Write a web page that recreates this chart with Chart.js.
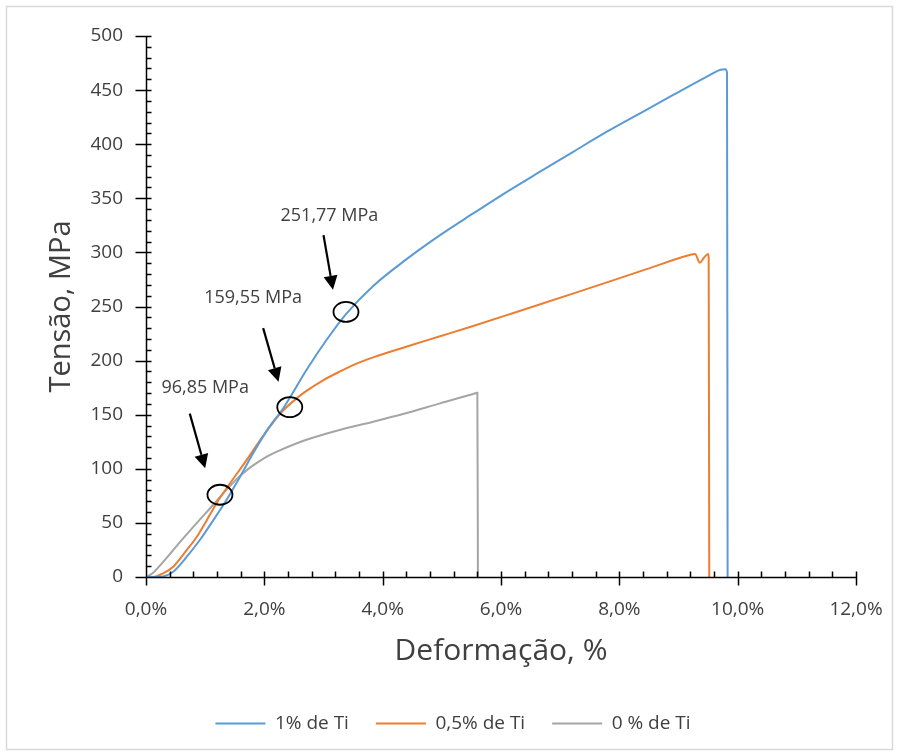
<!DOCTYPE html>
<html>
<head>
<meta charset="utf-8">
<script src="https://cdn.jsdelivr.net/npm/chart.js@4.4.1/dist/chart.umd.min.js"></script>
<style>
  html, body { margin: 0; padding: 0; background: #fff; }
  canvas { display: block; }
</style>
</head>
<body>
<canvas id="ensaio" width="899" height="756"></canvas>
<script>
// curvas tensão x deformação (deformação em %, tensão em MPa)
var strain1Ti = [0, 0.15, 0.29, 0.46, 0.69, 0.91, 1.14, 1.36, 1.59, 1.81, 2.05, 2.32, 2.72, 3.05, 3.38, 3.84, 4.41, 4.97, 5.53, 6.10, 6.66, 7.22, 7.79, 8.35, 8.91, 9.48, 9.70, 9.79, 9.82, 9.83];
var stress1Ti = [0, 0, 0.5, 4.9, 18.8, 34.2, 52.7, 71.2, 92.7, 114.3, 136, 156, 192, 219, 243, 269, 294, 316, 336, 356, 374.6, 393, 411.6, 428.6, 445.5, 462.4, 468.6, 469.2, 466, 0];

var strain05Ti = [0, 0.15, 0.29, 0.46, 0.69, 0.86, 1.03, 1.19, 1.42, 1.70, 1.93, 2.15, 2.32, 2.50, 2.70, 3.00, 3.28, 3.55, 3.84, 4.41, 4.97, 5.53, 6.21, 7.33, 8.46, 9.19, 9.28, 9.36, 9.43, 9.50, 9.51, 9.52];
var stress05Ti = [0, 0.3, 3.4, 9.5, 25, 37.2, 52.7, 68, 86.6, 108, 126.6, 143, 154, 163, 171.5, 182, 190, 197, 203, 213, 222.5, 232, 244, 264, 284.5, 297.6, 298.5, 290.5, 295, 298.5, 295, 0];

var strain0Ti = [0, 0.1, 0.29, 0.57, 0.86, 1.14, 1.30, 1.45, 1.58, 1.72, 1.86, 2.05, 2.26, 2.70, 3.27, 3.84, 4.39, 4.97, 5.53, 5.60, 5.61];
var stress0Ti = [0, 3, 14, 32, 50, 67, 77, 86, 93, 99.5, 105, 111.5, 117, 126.6, 135.9, 143.5, 151.3, 160.5, 169.1, 170.3, 0];

// limites de escoamento marcados no gráfico
var yieldLabels = [96.85, 159.55, 251.77];
var markStrain = [1.25, 2.43, 3.38];
var markStress = [76, 157, 245];

Chart.defaults.font.family = "'Open Sans', sans-serif";
Chart.defaults.font.size = 19;
Chart.defaults.color = '#404040';

function pontos(xs, ys) {
  return xs.map(function (x, i) { return { x: x, y: ys[i] }; });
}

function serie(label, xs, ys, cor) {
  return {
    label: label,
    data: pontos(xs, ys),
    borderColor: cor,
    backgroundColor: cor,
    borderWidth: 2,
    showLine: true,
    pointRadius: 0,
    cubicInterpolationMode: 'monotone'
  };
}

// fundo branco, moldura cinza e deslocamento da legenda
var moldura = {
  id: 'moldura',
  afterLayout: function (chart) {
    chart.legend.left += 25;
    chart.legend.right += 25;
  },
  beforeDraw: function (chart) {
    var ctx = chart.ctx;
    ctx.save();
    ctx.fillStyle = '#fff';
    ctx.fillRect(0, 0, chart.width, chart.height);
    ctx.strokeStyle = '#d9d9d9';
    ctx.lineWidth = 1.5;
    ctx.strokeRect(6.5, 6.5, chart.width - 13, chart.height - 13);
    ctx.restore();
  }
};

// eixos com marcas principais (cruzando) e secundárias (para dentro)
var eixos = {
  id: 'eixos',
  afterDatasetsDraw: function (chart) {
    var ctx = chart.ctx, sx = chart.scales.x, sy = chart.scales.y;
    var ca = chart.chartArea;
    var x0 = Math.round(ca.left) + 0.5, y0 = Math.round(ca.bottom) + 0.5;
    ctx.save();
    ctx.strokeStyle = '#000';
    ctx.lineWidth = 1.5;
    ctx.beginPath();
    ctx.moveTo(x0, ca.top);
    ctx.lineTo(x0, y0);
    ctx.lineTo(ca.right, y0);
    var i, p;
    for (i = 0; i <= 50; i++) {
      p = Math.round(sy.getPixelForValue(i * 10)) + 0.5;
      if (i % 5 === 0) { ctx.moveTo(x0 - 11, p); ctx.lineTo(x0 + 5, p); }
      else { ctx.moveTo(x0, p); ctx.lineTo(x0 + 5, p); }
    }
    for (i = 0; i <= 30; i++) {
      p = Math.round(sx.getPixelForValue(i * 0.4)) + 0.5;
      if (i % 5 === 0) { ctx.moveTo(p, y0 - 6); ctx.lineTo(p, y0 + 8); }
      else { ctx.moveTo(p, y0 - 6); ctx.lineTo(p, y0); }
    }
    ctx.stroke();
    ctx.restore();
  }
};

// setas, elipses e textos dos limites de escoamento
var notas = {
  id: 'notas',
  marcas: [
    { texto: [1.0, 174.4], seta: [0.74, 151, 1.0, 100.5] },
    { texto: [1.81, 257.6], seta: [1.98, 230, 2.24, 180.5] },
    { texto: [3.1, 333.6], seta: [3.0, 316, 3.16, 265.5] }
  ],
  afterDatasetsDraw: function (chart) {
    var ctx = chart.ctx, sx = chart.scales.x, sy = chart.scales.y;
    ctx.save();
    this.marcas.forEach(function (m, k) {
      // elipse sobre a curva
      ctx.strokeStyle = '#000';
      ctx.lineWidth = 1.8;
      ctx.beginPath();
      ctx.ellipse(sx.getPixelForValue(markStrain[k]), sy.getPixelForValue(markStress[k]), 12.5, 10, 0, 0, Math.PI * 2);
      ctx.stroke();

      // seta
      var ax = sx.getPixelForValue(m.seta[0]), ay = sy.getPixelForValue(m.seta[1]);
      var bx = sx.getPixelForValue(m.seta[2]), by = sy.getPixelForValue(m.seta[3]);
      var ang = Math.atan2(by - ay, bx - ax);
      var cab = 14, meia = 7;
      var cx = bx - cab * Math.cos(ang), cy = by - cab * Math.sin(ang);
      ctx.lineWidth = 2.2;
      ctx.beginPath();
      ctx.moveTo(ax, ay);
      ctx.lineTo(cx, cy);
      ctx.stroke();
      ctx.fillStyle = '#000';
      ctx.beginPath();
      ctx.moveTo(bx, by);
      ctx.lineTo(cx + meia * Math.sin(ang), cy - meia * Math.cos(ang));
      ctx.lineTo(cx - meia * Math.sin(ang), cy + meia * Math.cos(ang));
      ctx.closePath();
      ctx.fill();

      // texto
      ctx.fillStyle = '#404040';
      ctx.font = "18px 'Open Sans', sans-serif";
      ctx.textAlign = 'center';
      ctx.textBaseline = 'middle';
      ctx.fillText(yieldLabels[k].toFixed(2).replace('.', ',') + ' MPa',
        sx.getPixelForValue(m.texto[0]), sy.getPixelForValue(m.texto[1]));
    });
    ctx.restore();
  }
};

new Chart(document.getElementById('ensaio'), {
  type: 'scatter',
  data: {
    datasets: [
      serie('1% de Ti', strain1Ti, stress1Ti, '#5B9BD5'),
      serie('0,5% de Ti', strain05Ti, stress05Ti, '#ED7D31'),
      serie('0 % de Ti', strain0Ti, stress0Ti, '#A5A5A5')
    ]
  },
  options: {
    responsive: false,
    animation: false,
    layout: { padding: { left: 0, right: 43, top: 36, bottom: 13 } },
    plugins: {
      legend: {
        position: 'bottom',
        labels: {
          usePointStyle: true,
          pointStyle: 'line',
          pointStyleWidth: 50,
          padding: 27,
          color: '#404040',
          font: { size: 19 }
        }
      },
      tooltip: { enabled: false }
    },
    scales: {
      x: {
        type: 'linear',
        min: 0,
        max: 12,
        grid: { display: false, drawTicks: true, tickLength: 21 },
        border: { display: false },
        ticks: {
          stepSize: 2,
          padding: 0,
          color: '#404040',
          callback: function (v) { return v.toFixed(1).replace('.', ',') + '%'; }
        },
        title: {
          display: true,
          text: 'Deformação, %',
          color: '#404040',
          font: { size: 30 },
          padding: { top: 0, bottom: 18 }
        },
        afterFit: function (s) { s.height = 110; }
      },
      y: {
        type: 'linear',
        min: 0,
        max: 500,
        grid: { display: false, drawTicks: true, tickLength: 23 },
        border: { display: false },
        ticks: { stepSize: 50, padding: 0, color: '#404040' },
        title: {
          display: true,
          text: 'Tensão, MPa',
          color: '#404040',
          font: { size: 29 },
          padding: { top: 44, bottom: 0 }
        },
        afterFit: function (s) { s.width = 146; }
      }
    }
  },
  plugins: [moldura, eixos, notas]
});
</script>
</body>
</html>
